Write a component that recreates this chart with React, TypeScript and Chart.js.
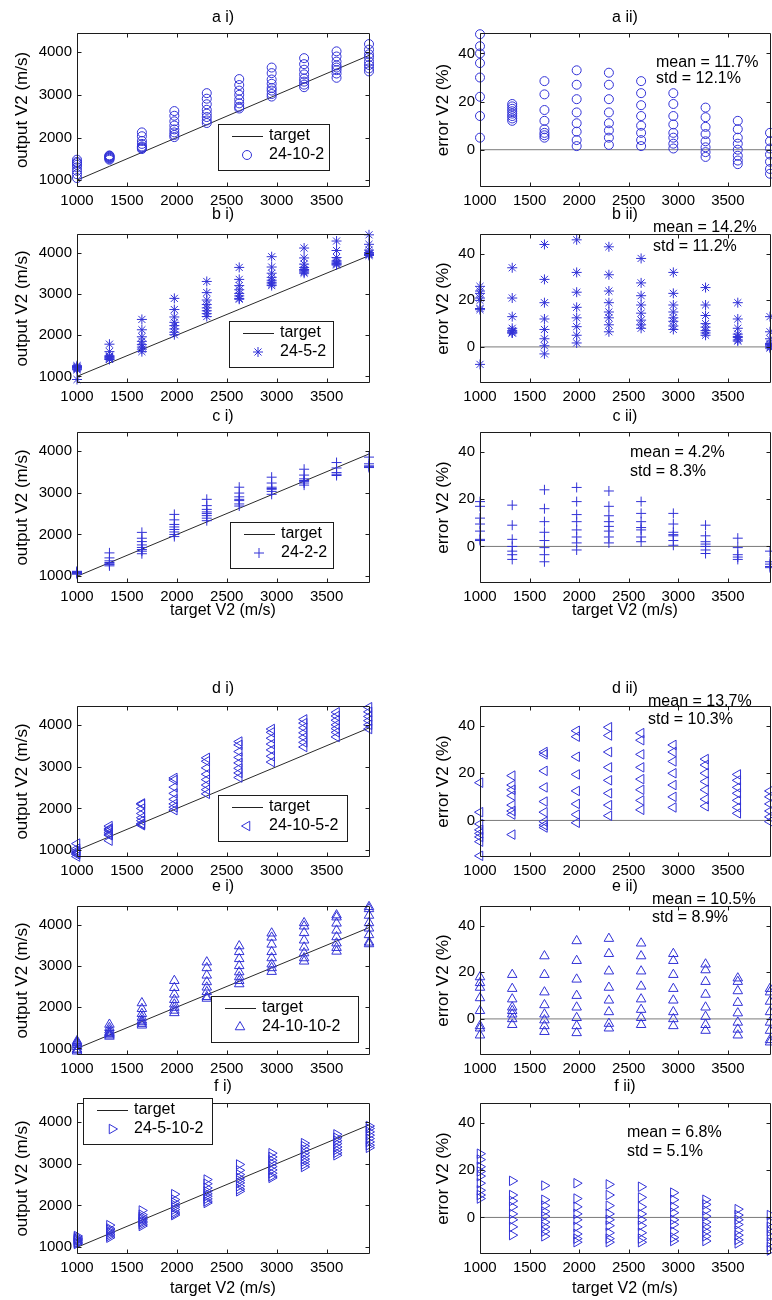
import React, { useEffect, useRef } from "react";
import { Chart, registerables } from "chart.js";
import { drawPoint } from "chart.js/helpers";
Chart.register(...registerables);

const FONT = '"Liberation Sans", Arial, Helvetica, sans-serif';
const BLUE = "rgb(50,50,215)";

// ---------- data ----------
const TARGET_V2 = [1000, 1325, 1650, 1975, 2300, 2625, 2950, 3275, 3600, 3925];
const X_TICKS = [1000, 1500, 2000, 2500, 3000, 3500];
const OUT_TICKS = [1000, 2000, 3000, 4000];
const ERR_TICKS = [0, 20, 40];
const X_RANGE = [1000, 3935];
const OUT_RANGE = [840, 4450];
const ERR_RANGE = [-15.5, 48.5];
const ZERO_ERR = [0, 0];

const NETWORKS = ["24-10-2", "24-5-2", "24-2-2", "24-10-5-2", "24-10-10-2", "24-5-10-2"];
const MEAN_ERR = [11.7, 14.2, 4.2, 13.7, 10.5, 6.8];
const STD_ERR = [12.1, 11.2, 8.3, 10.3, 8.9, 5.1];

const A_OUTPUT = [
  [1050, 1140, 1220, 1300, 1360, 1400, 1430, 1480],
  [1480, 1500, 1520, 1530, 1545, 1560, 1570, 1580],
  [1730, 1750, 1770, 1790, 1850, 1920, 2030, 2120],
  [2010, 2060, 2120, 2190, 2280, 2380, 2510, 2620],
  [2340, 2400, 2480, 2560, 2650, 2780, 2910, 3040],
  [2680, 2720, 2800, 2890, 3000, 3100, 3230, 3370],
  [2960, 3020, 3100, 3160, 3260, 3360, 3510, 3640],
  [3180, 3240, 3310, 3380, 3480, 3590, 3720, 3860],
  [3400, 3500, 3580, 3640, 3690, 3780, 3900, 4020],
  [3550, 3620, 3700, 3780, 3880, 3950, 4060, 4190],
];
const A_ERROR = [
  [5, 14, 22, 30, 36, 40, 43, 48],
  [12, 13, 14, 15, 16, 17, 18, 19],
  [5, 6, 7, 8.5, 12, 16.5, 23, 28.5],
  [1.5, 4, 7.5, 11, 15.5, 21, 27, 33],
  [2, 5, 8, 11, 15.5, 21, 27, 32],
  [1.5, 4, 7, 10, 14, 18.5, 23.5, 28.5],
  [0.5, 2.5, 5, 7, 10.5, 14, 19, 23.5],
  [-3, -1, 1, 3.5, 6.5, 9.5, 13.5, 17.5],
  [-6, -4.5, -2.5, 0, 2.5, 5, 8.5, 12],
  [-10, -8, -5, -2, 0.5, 3.5, 7],
];
const B_OUTPUT = [
  [925, 1160, 1180, 1200, 1210, 1220, 1240, 1260],
  [1410, 1420, 1440, 1460, 1480, 1500, 1600, 1780],
  [1600, 1660, 1710, 1770, 1850, 1960, 2130, 2380],
  [2010, 2070, 2150, 2230, 2310, 2440, 2620, 2890],
  [2450, 2520, 2590, 2660, 2740, 2850, 3030, 3300],
  [2870, 2890, 2950, 3010, 3100, 3200, 3350, 3640],
  [3200, 3240, 3280, 3330, 3400, 3500, 3650, 3900],
  [3500, 3530, 3560, 3590, 3640, 3720, 3870, 4110],
  [3700, 3720, 3740, 3770, 3800, 3880, 4050, 4280],
  [3930, 3950, 3960, 3970, 4000, 4060, 4200, 4430],
];
const B_ERROR = [
  [-7.5, 16, 16.5, 20, 21, 23, 24, 26],
  [6, 6, 6.5, 7, 8, 13, 21, 34],
  [-3, 0.5, 3.5, 7.5, 12, 19, 29, 44],
  [1.7, 5, 8.7, 12.5, 17, 23.5, 32, 46],
  [6.5, 9.5, 12.5, 15, 19, 24, 31, 43],
  [8, 9.5, 11.5, 14.5, 18, 22, 27.5, 38],
  [7.5, 9, 11, 12.5, 15, 18, 23, 32],
  [5, 6, 7, 8.5, 10, 13.5, 18, 25.5],
  [2.5, 3, 4, 4.5, 5.5, 8, 12, 19],
  [-0.5, 0, 0.5, 1, 1.5, 3.5, 6.5, 13],
];
const C_OUTPUT = [
  [1050, 1070, 1080, 1090, 1100, 1110, 1120],
  [1250, 1280, 1300, 1330, 1370, 1440, 1560],
  [1540, 1600, 1640, 1690, 1750, 1830, 1910, 2050],
  [1950, 2000, 2060, 2120, 2180, 2240, 2350, 2480],
  [2330, 2390, 2450, 2500, 2540, 2600, 2690, 2840],
  [2680, 2730, 2810, 2840, 2900, 2990, 3130],
  [2960, 3030, 3080, 3100, 3130, 3230, 3370],
  [3180, 3230, 3270, 3290, 3330, 3420, 3560],
  [3410, 3440, 3480, 3590, 3720],
  [3600, 3620, 3640, 3690, 3850],
];
const C_ERROR = [
  [2.5, 3, 6.5, 9.5, 12, 17, 19],
  [-5.5, -3.5, -2, 0, 3, 9, 17.5],
  [-6.5, -3.5, -0.5, 2.5, 6, 10.5, 16, 24],
  [-1.5, 1.5, 4, 7, 10.5, 13.5, 19, 25],
  [1.5, 4, 6.5, 8.5, 10.5, 13, 17, 23.5],
  [2, 4, 7, 8, 10.5, 14, 19],
  [0.5, 2.5, 4.5, 5, 6, 9.5, 14],
  [-3, -1.5, 0, 1, 2, 4.5, 9],
  [-5.5, -4.5, -3.5, -0.5, 3.5],
  [-9, -8.5, -7.5, -6.5, -2],
];
const D_OUTPUT = [
  [850, 900, 920, 940, 960, 990, 1040, 1160],
  [1230, 1360, 1380, 1420, 1470, 1500, 1520, 1580],
  [1600, 1620, 1640, 1710, 1780, 1880, 2000, 2100, 2120],
  [1960, 2030, 2110, 2220, 2360, 2510, 2680, 2730],
  [2350, 2450, 2560, 2690, 2820, 2970, 3130, 3210],
  [2740, 2850, 2960, 3090, 3220, 3360, 3520, 3600],
  [3110, 3250, 3400, 3540, 3680, 3820, 3900],
  [3470, 3580, 3700, 3810, 3930, 4040, 4130],
  [3710, 3820, 3910, 4000, 4110, 4210, 4300],
  [3900, 4000, 4100, 4200, 4310, 4420],
];
const D_ERROR = [
  [-15, -9, -7, -5.5, -4, -1.5, 3.5, 16],
  [-6, 2.5, 4, 6.5, 10.5, 13, 15, 19],
  [-3, -2, -0.5, 3.5, 8, 14, 21, 28, 29],
  [-1, 2.5, 7, 12.5, 19.5, 27, 35.5, 38],
  [2, 6.5, 11.5, 17, 22.5, 29, 36, 39.5],
  [4.5, 8.5, 13, 17.5, 22.5, 28, 34, 37],
  [5.5, 10, 15, 20, 25, 29, 32],
  [6, 9, 13, 16.5, 20, 23.5, 26],
  [3, 5.5, 8.5, 11.5, 14, 17, 19.5],
  [-0.5, 1.5, 4, 7, 10, 12.5],
];
const E_OUTPUT = [
  [930, 960, 980, 1040, 1090, 1130, 1150, 1180],
  [1290, 1320, 1350, 1370, 1390, 1440, 1500, 1580],
  [1560, 1600, 1640, 1680, 1750, 1840, 1960, 2100],
  [1860, 1920, 1990, 2070, 2180, 2310, 2470, 2640],
  [2210, 2250, 2370, 2480, 2610, 2770, 2950, 3090],
  [2560, 2640, 2730, 2850, 3000, 3170, 3340, 3480],
  [2860, 2950, 3040, 3190, 3340, 3520, 3690, 3790],
  [3110, 3190, 3310, 3450, 3620, 3800, 3960, 4040],
  [3350, 3440, 3550, 3700, 3860, 4030, 4180, 4230],
  [3530, 3570, 3750, 3910, 4040, 4220, 4380, 4430],
];
const E_ERROR = [
  [-7, -4, -3, 3.5, 9, 13.5, 15.5, 18],
  [-2.5, 0, 2, 3.5, 5, 8.5, 13, 19],
  [-5.5, -3, -0.5, 2, 6, 11.5, 19, 27],
  [-6, -3, 0.5, 5, 10, 17, 25, 33.5],
  [-4, -2, 3, 8, 13.5, 20.5, 28, 34.5],
  [-2.5, 0.5, 4, 8.5, 14, 20.5, 27, 32.5],
  [-3, 0, 3, 8, 13, 19, 25, 28],
  [-5, -2.5, 1, 5, 10.5, 16, 21, 23.5],
  [-7, -4.5, -1.5, 2.5, 7, 12, 16, 17.5],
  [-10, -9, -5, -1.5, 3, 7.5, 11.5, 13],
];
const F_OUTPUT = [
  [1080, 1100, 1120, 1150, 1170, 1190, 1210, 1240, 1270],
  [1230, 1270, 1310, 1350, 1380, 1420, 1450, 1530],
  [1510, 1550, 1590, 1620, 1660, 1690, 1730, 1780, 1880],
  [1770, 1800, 1840, 1900, 1960, 2010, 2070, 2140, 2270],
  [2060, 2100, 2160, 2220, 2280, 2340, 2420, 2520, 2620],
  [2340, 2390, 2460, 2540, 2600, 2660, 2740, 2840, 2980],
  [2660, 2700, 2770, 2850, 2930, 3010, 3080, 3160, 3250],
  [2920, 2980, 3050, 3110, 3190, 3260, 3340, 3420, 3490],
  [3200, 3260, 3330, 3400, 3480, 3550, 3620, 3700],
  [3380, 3440, 3520, 3600, 3680, 3760, 3840, 3900],
];
const F_ERROR = [
  [8, 9.5, 11.5, 14.5, 17.5, 19.5, 21.5, 24.5, 27],
  [-7.5, -4, -1, 1.5, 4.5, 7, 9.5, 15.5],
  [-8, -6, -4, -2, 0.5, 2.5, 5, 7.5, 13.5],
  [-10.5, -9, -7, -4, -1, 1.5, 4.5, 8, 14.5],
  [-10.5, -9, -6.5, -3.5, -1, 1.5, 5, 9.5, 14],
  [-10.5, -9, -6.5, -3.5, -1, 1.5, 4.5, 8.5, 13],
  [-10, -8.5, -6, -3, -1, 2, 4.5, 7.5, 10.5],
  [-10, -8, -6, -4, -2, 0.5, 3, 5.5, 7.5],
  [-11, -9.5, -7.5, -5.5, -3, -1, 1, 3.5],
  [-14, -12.5, -10.5, -8, -6, -4, -2, 1],
];

const OUTPUTS = [A_OUTPUT, B_OUTPUT, C_OUTPUT, D_OUTPUT, E_OUTPUT, F_OUTPUT];
const ERRORS = [A_ERROR, B_ERROR, C_ERROR, D_ERROR, E_ERROR, F_ERROR];
const LETTERS = ["a", "b", "c", "d", "e", "f"];

// ---------- styling / layout ----------
const MARKERS = [
  { style: "circle", rotation: 0, radius: 4.5 },
  { style: "star", rotation: 0, radius: 5 },
  { style: "cross", rotation: 0, radius: 5 },
  { style: "triangle", rotation: -90, radius: 5.5 },
  { style: "triangle", rotation: 0, radius: 5.5 },
  { style: "triangle", rotation: 90, radius: 5.5 },
];
const ROWS = [
  { top: 33, bottom: 187, titleY: 18 },
  { top: 234, bottom: 383, titleY: 215 },
  { top: 432, bottom: 583, titleY: 417 },
  { top: 706, bottom: 857, titleY: 689 },
  { top: 906, bottom: 1055, titleY: 887 },
  { top: 1103, bottom: 1254, titleY: 1087 },
];
const COLS = [
  { left: 77, right: 370, canvasX: 0, titleX: 223, ylabelX: 22 },
  { left: 480, right: 771, canvasX: 390, titleX: 625, ylabelX: 443 },
];
const LEGENDS = [
  { x: 218, y: 124, w: 111 },
  { x: 229, y: 321, w: 104 },
  { x: 230, y: 522, w: 103 },
  { x: 218, y: 795, w: 129 },
  { x: 211, y: 996, w: 147 },
  { x: 83, y: 1098, w: 129 },
];
const STATS_POS = [
  { x: 656, y1: 63, y2: 79 },
  { x: 653, y1: 228, y2: 247 },
  { x: 630, y1: 453, y2: 472 },
  { x: 648, y1: 702, y2: 720 },
  { x: 652, y1: 900, y2: 918 },
  { x: 627, y1: 1133, y2: 1152 },
];
const XLABEL_ROWS: Record<number, number> = { 2: 611, 5: 1289 };
const PAD_TOP = 36;
const PAD_BOTTOM = 48;
const CANVAS_W = 390;

type TextItem = { text: string; x: number; y: number; size: number; align?: CanvasTextAlign; rot?: number };

function Panel({ row, col }: { row: number; col: number }) {
  const ref = useRef<HTMLCanvasElement>(null);
  const R = ROWS[row];
  const C = COLS[col];
  const cx = C.canvasX;
  const cy = R.top - PAD_TOP;
  const h = R.bottom - R.top + PAD_TOP + PAD_BOTTOM;
  const isOut = col === 0;

  useEffect(() => {
    const canvas = ref.current;
    if (!canvas) return;
    const mk = MARKERS[row];
    const values = isOut ? OUTPUTS[row] : ERRORS[row];
    const points = values.flatMap((colVals, i) => colVals.map((v) => ({ x: TARGET_V2[i], y: v })));

    const texts: TextItem[] = [];
    texts.push({ text: `${LETTERS[row]} ${isOut ? "i)" : "ii)"}`, x: C.titleX - cx, y: R.titleY - cy, size: 16 });
    texts.push({
      text: isOut ? "output V2 (m/s)" : "error V2 (%)",
      x: C.ylabelX - cx,
      y: (R.top + R.bottom) / 2 - cy,
      size: 17,
      rot: -Math.PI / 2,
    });
    if (XLABEL_ROWS[row] !== undefined) {
      texts.push({ text: "target V2 (m/s)", x: C.titleX - cx, y: XLABEL_ROWS[row] - cy, size: 16 });
    }
    if (!isOut) {
      const sp = STATS_POS[row];
      texts.push({ text: `mean = ${MEAN_ERR[row].toFixed(1)}%`, x: sp.x - cx, y: sp.y1 - cy, size: 16, align: "left" });
      texts.push({ text: `std = ${STD_ERR[row].toFixed(1)}%`, x: sp.x - cx, y: sp.y2 - cy, size: 16, align: "left" });
    }
    const legend = isOut ? LEGENDS[row] : null;

    const plugin = {
      id: "matlabLook",
      afterDatasetsDraw(chart: any) {
        const { ctx, chartArea: a } = chart;
        const xs = chart.scales.x;
        const ys = chart.scales.y;
        ctx.save();
        ctx.strokeStyle = "#1c1c1c";
        ctx.lineWidth = 1;
        const L = 4;
        const l = Math.round(a.left) + 0.5;
        const r = Math.round(a.right) - 0.5;
        const t = Math.round(a.top) + 0.5;
        const b = Math.round(a.bottom) - 0.5;
        ctx.beginPath();
        ctx.rect(l, t, r - l, b - t);
        xs.ticks.forEach((tk: any) => {
          const p = Math.round(xs.getPixelForValue(tk.value)) + 0.5;
          ctx.moveTo(p, b);
          ctx.lineTo(p, b - L);
          ctx.moveTo(p, t);
          ctx.lineTo(p, t + L);
        });
        ys.ticks.forEach((tk: any) => {
          const p = Math.round(ys.getPixelForValue(tk.value)) + 0.5;
          ctx.moveTo(l, p);
          ctx.lineTo(l + L, p);
          ctx.moveTo(r, p);
          ctx.lineTo(r - L, p);
        });
        ctx.stroke();
        ctx.restore();
      },
      afterDraw(chart: any) {
        const ctx = chart.ctx;
        texts.forEach((tx) => {
          ctx.save();
          ctx.font = `${tx.size}px ${FONT}`;
          ctx.fillStyle = "#000";
          ctx.textAlign = tx.align || "center";
          ctx.textBaseline = "middle";
          ctx.translate(tx.x, tx.y);
          if (tx.rot) ctx.rotate(tx.rot);
          ctx.fillText(tx.text, 0, 0);
          ctx.restore();
        });
        if (legend) {
          const x = legend.x - cx;
          const y = legend.y - cy;
          const w = legend.w;
          const hh = 46;
          ctx.save();
          ctx.fillStyle = "#fff";
          ctx.fillRect(x, y, w, hh);
          ctx.strokeStyle = "#1c1c1c";
          ctx.lineWidth = 1;
          ctx.strokeRect(x + 0.5, y + 0.5, w, hh);
          ctx.beginPath();
          ctx.moveTo(x + 14, y + 12.5);
          ctx.lineTo(x + 45, y + 12.5);
          ctx.strokeStyle = "#222";
          ctx.stroke();
          ctx.strokeStyle = BLUE;
          ctx.fillStyle = "rgba(0,0,0,0)";
          drawPoint(ctx, { pointStyle: mk.style as any, rotation: mk.rotation, radius: mk.radius, borderWidth: 1 } as any, x + 29, y + 31);
          ctx.fillStyle = "#000";
          ctx.font = `16px ${FONT}`;
          ctx.textAlign = "left";
          ctx.textBaseline = "middle";
          ctx.fillText("target", x + 51, y + 12);
          ctx.fillText(NETWORKS[row], x + 51, y + 31);
          ctx.restore();
        }
      },
    };

    const lineData = isOut
      ? TARGET_V2.map((v) => ({ x: v, y: v }))
      : X_RANGE.map((v, i) => ({ x: v, y: ZERO_ERR[i] }));

    const tickFont = { family: FONT, size: 15 };
    const chart = new Chart(canvas, {
      type: "scatter",
      data: {
        datasets: [
          {
            label: NETWORKS[row],
            data: points,
            showLine: false,
            pointStyle: mk.style as any,
            rotation: mk.rotation,
            pointRadius: mk.radius,
            pointBorderWidth: 1,
            borderColor: BLUE,
            backgroundColor: "rgba(0,0,0,0)",
            pointBackgroundColor: "rgba(0,0,0,0)",
            pointBorderColor: BLUE,
            clip: false as any,
          },
          {
            label: "target",
            data: lineData,
            showLine: true,
            pointRadius: 0,
            borderColor: isOut ? "#2a2a2a" : "#7a7a7a",
            borderWidth: 1,
          },
        ],
      },
      options: {
        responsive: false,
        animation: false,
        devicePixelRatio: 1,
        layout: { padding: { left: 0, top: PAD_TOP, right: cx + CANVAS_W - C.right, bottom: 0 } },
        plugins: { legend: { display: false }, tooltip: { enabled: false } },
        scales: {
          x: {
            type: "linear",
            min: X_RANGE[0],
            max: X_RANGE[1],
            grid: { display: false, drawTicks: false },
            border: { display: false },
            ticks: { autoSkip: false, maxRotation: 0, padding: 5, color: "#000", font: tickFont, callback: (v: any) => String(v) },
            afterBuildTicks: (s: any) => {
              s.ticks = X_TICKS.map((v) => ({ value: v }));
            },
            afterFit: (s: any) => {
              s.height = PAD_BOTTOM;
            },
          },
          y: {
            type: "linear",
            min: isOut ? OUT_RANGE[0] : ERR_RANGE[0],
            max: isOut ? OUT_RANGE[1] : ERR_RANGE[1],
            grid: { display: false, drawTicks: false },
            border: { display: false },
            ticks: { autoSkip: false, padding: 5, color: "#000", font: tickFont, callback: (v: any) => String(v) },
            afterBuildTicks: (s: any) => {
              s.ticks = (isOut ? OUT_TICKS : ERR_TICKS).map((v) => ({ value: v }));
            },
            afterFit: (s: any) => {
              s.width = C.left - cx;
            },
          },
        },
      },
      plugins: [plugin as any],
    });
    return () => chart.destroy();
  }, []);

  return (
    <canvas
      ref={ref}
      width={CANVAS_W}
      height={h}
      style={{ position: "absolute", left: cx, top: cy, width: CANVAS_W, height: h }}
    />
  );
}

export default function App() {
  const panels: { row: number; col: number }[] = [];
  for (let r = 0; r < 6; r++) for (let c = 0; c < 2; c++) panels.push({ row: r, col: c });
  return (
    <div
      style={{
        position: "absolute",
        left: 0,
        top: 0,
        width: 772,
        height: 1300,
        overflow: "hidden",
        background: "#fff",
      }}
    >
      {panels.map((p) => (
        <Panel key={`${p.row}-${p.col}`} row={p.row} col={p.col} />
      ))}
    </div>
  );
}
